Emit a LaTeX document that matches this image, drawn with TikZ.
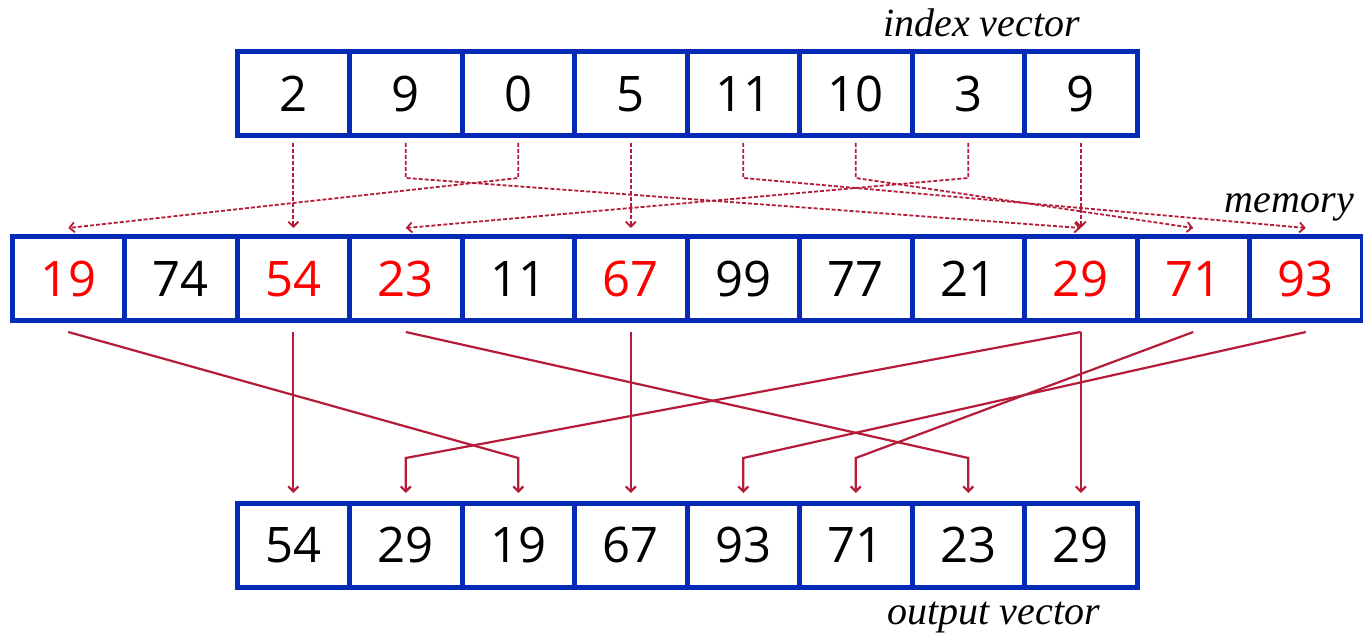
\documentclass[tikz,border=0pt]{standalone}
\usepackage{fontspec}
\setsansfont{Open Sans}
\newfontfamily\labfont{Liberation Serif}
\usetikzlibrary{arrows.meta}
\definecolor{cellblue}{RGB}{5,42,184}
\definecolor{arrred}{RGB}{180,28,58}
\definecolor{numred}{RGB}{255,0,0}
\begin{document}
\begin{tikzpicture}[x=1pt,y=-1pt,
  cell/.style={draw=cellblue,line width=5pt,minimum width=112.5pt,minimum height=84pt,
    inner sep=0pt,text height=35pt,text depth=0pt,font=\sffamily\fontsize{49}{49}\selectfont},
  darr/.style={draw=arrred,line width=1.8pt,dash pattern=on 4pt off 2pt,
    -{Straight Barb[length=5pt,width=10pt]}},
  sarr/.style={draw=arrred,line width=2.2pt,
    -{Straight Barb[length=5pt,width=10pt]}},
  lab/.style={font=\labfont\itshape\fontsize{40}{40}\selectfont,anchor=base east,inner sep=0pt}]
\useasboundingbox (0,0) rectangle (1363,636);
% index vector
\foreach \v [count=\i from 0] in {2,9,0,5,11,10,3,9}
  \node[cell] (i\i) at (293.25+112.5*\i,94) {\v};
% memory
\foreach \v/\c [count=\i from 0] in {19/numred,74/black,54/numred,23/numred,11/black,67/numred,99/black,77/black,21/black,29/numred,71/numred,93/numred}
  \node[cell,text=\c] (m\i) at (68.25+112.5*\i,279) {\v};
% output vector
\foreach \v [count=\i from 0] in {54,29,19,67,93,71,23,29}
  \node[cell] (o\i) at (293.25+112.5*\i,545) {\v};
% labels
\node[lab] (lidx) at (1080,37) {index vector};
\node[lab] (lmem) at (1354,213) {memory};
\node[lab] (lout) at (1100,624) {output vector};
% helper levels
\coordinate (sy) at (0,143);
\coordinate (hy) at (0,178);
\coordinate (ty) at (0,228);
\coordinate (by) at (0,332);
\coordinate (cy) at (0,458);
\coordinate (ey) at (0,493);
% dashed index arrows
\draw[darr] (i0 |- sy) -- (m2 |- ty);
\draw[darr] (i1 |- sy) -- (i1 |- hy) -- (m9 |- ty);
\draw[darr] (i2 |- sy) -- (i2 |- hy) -- (m0 |- ty);
\draw[darr] (i3 |- sy) -- (m5 |- ty);
\draw[darr] (i4 |- sy) -- (i4 |- hy) -- (m11 |- ty);
\draw[darr] (i5 |- sy) -- (i5 |- hy) -- (m10 |- ty);
\draw[darr] (i6 |- sy) -- (i6 |- hy) -- (m3 |- ty);
\draw[darr] (i7 |- sy) -- (m9 |- ty);
% solid gather arrows
\draw[sarr] (m0 |- by) -- (o2 |- cy) -- (o2 |- ey);
\draw[sarr] (m2 |- by) -- (o0 |- ey);
\draw[sarr] (m3 |- by) -- (o6 |- cy) -- (o6 |- ey);
\draw[sarr] (m5 |- by) -- (o3 |- ey);
\draw[sarr] (m9 |- by) -- (o1 |- cy) -- (o1 |- ey);
\draw[sarr] (m9 |- by) -- (o7 |- ey);
\draw[sarr] (m10 |- by) -- (o5 |- cy) -- (o5 |- ey);
\draw[sarr] (m11 |- by) -- (o4 |- cy) -- (o4 |- ey);
\end{tikzpicture}
\end{document}
